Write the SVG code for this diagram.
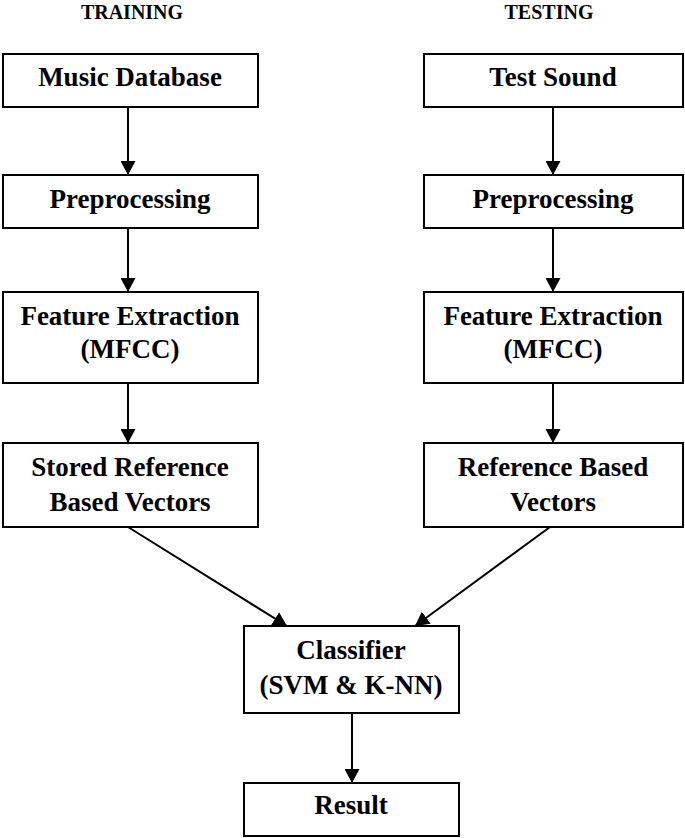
<svg xmlns="http://www.w3.org/2000/svg" width="685" height="838" viewBox="0 0 685 838">
<style>
.box{fill:#fff;stroke:#000;stroke-width:2}
.t{font-family:"Liberation Serif","Times New Roman",serif;font-weight:bold;font-size:27px;text-anchor:middle;fill:#000}
.h{font-family:"Liberation Serif","Times New Roman",serif;font-weight:bold;font-size:20px;text-anchor:middle;fill:#000}
.c{stroke:#000;stroke-width:2;fill:none;marker-end:url(#ah)}
</style>
<defs>
<marker id="ah" markerWidth="15" markerHeight="15" refX="14" refY="7.5" orient="auto" markerUnits="userSpaceOnUse">
<path d="M0,0 L14,7.5 L0,15 Z" fill="#000"/>
</marker>
</defs>
<rect width="685" height="838" fill="#fff"/>
<text class="h" x="132" y="19">TRAINING</text>
<text class="h" x="549" y="19">TESTING</text>
<g id="music-db"><rect class="box" x="3" y="54" width="255" height="53"/><text class="t" x="130" y="86">Music Database</text></g>
<g id="pre-train"><rect class="box" x="3" y="175" width="255" height="53"/><text class="t" x="130" y="208">Preprocessing</text></g>
<g id="fe-train"><rect class="box" x="3" y="292" width="255" height="91"/><text class="t" x="130" y="325">Feature Extraction</text><text class="t" x="130" y="358">(MFCC)</text></g>
<g id="stored-ref"><rect class="box" x="3" y="443" width="255" height="84"/><text class="t" x="130" y="476">Stored Reference</text><text class="t" x="130" y="511">Based Vectors</text></g>
<g id="test-sound"><rect class="box" x="424" y="54" width="259" height="53"/><text class="t" x="553" y="86">Test Sound</text></g>
<g id="pre-test"><rect class="box" x="424" y="175" width="259" height="53"/><text class="t" x="553" y="208">Preprocessing</text></g>
<g id="fe-test"><rect class="box" x="424" y="292" width="259" height="91"/><text class="t" x="553" y="325">Feature Extraction</text><text class="t" x="553" y="358">(MFCC)</text></g>
<g id="ref-vec"><rect class="box" x="424" y="443" width="259" height="84"/><text class="t" x="553" y="476">Reference Based</text><text class="t" x="553" y="511">Vectors</text></g>
<g id="classifier"><rect class="box" x="244" y="626" width="215" height="87"/><text class="t" x="351" y="659">Classifier</text><text class="t" x="351" y="694">(SVM &amp; K-NN)</text></g>
<g id="result"><rect class="box" x="244" y="783" width="215" height="53"/><text class="t" x="351" y="814">Result</text></g>
<g id="connectors">
<line class="c" x1="128" y1="107" x2="128" y2="175"/>
<line class="c" x1="128" y1="228" x2="128" y2="292"/>
<line class="c" x1="128" y1="383" x2="128" y2="443"/>
<line class="c" x1="553" y1="107" x2="553" y2="175"/>
<line class="c" x1="553" y1="228" x2="553" y2="292"/>
<line class="c" x1="553" y1="383" x2="553" y2="443"/>
<line class="c" x1="128" y1="527" x2="287" y2="626"/>
<line class="c" x1="550" y1="527" x2="415" y2="626"/>
<line class="c" x1="352" y1="713" x2="352" y2="783"/>
</g>
</svg>
